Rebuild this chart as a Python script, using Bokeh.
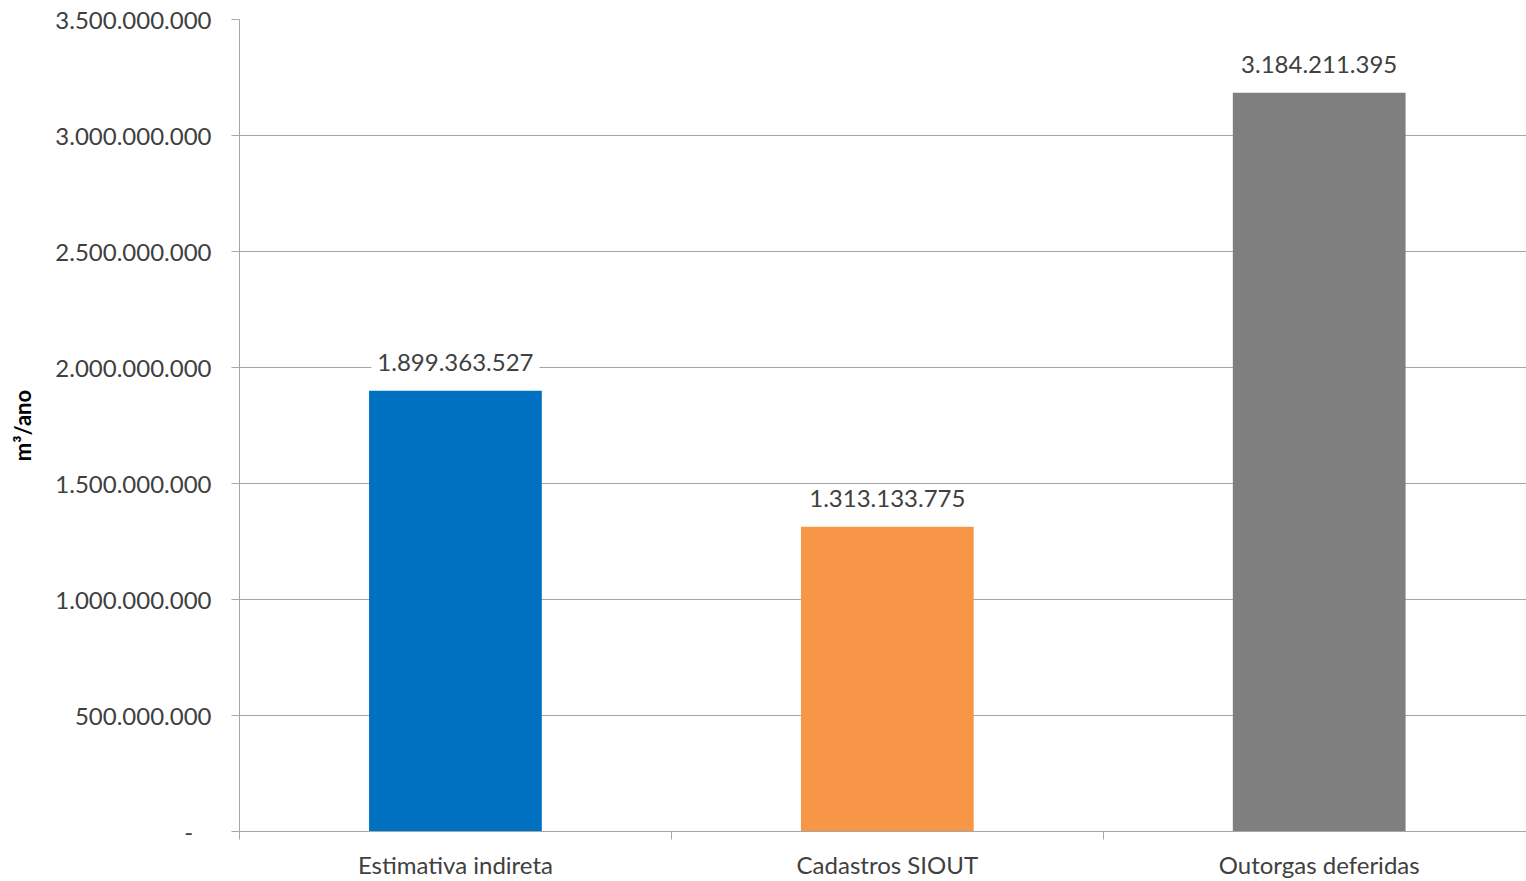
from bokeh.plotting import figure
from bokeh.models import ColumnDataSource, Range1d, FixedTicker, CustomJSTickFormatter
from bokeh.core.properties import value
from bokeh.embed import file_html
from bokeh.resources import INLINE

categories = ["Estimativa indireta", "Cadastros SIOUT", "Outorgas deferidas"]
values = [1899363527, 1313133775, 3184211395]
colors = ["#0070C0", "#F79646", "#7F7F7F"]
y_ticks = [0, 500000000, 1000000000, 1500000000, 2000000000, 2500000000, 3000000000, 3500000000]


def fmt(v):
    return f"{v:,}".replace(",", ".")


x_pos = [i + 0.5 for i in range(len(categories))]
src = ColumnDataSource(dict(x=x_pos, top=values, color=colors,
                            label=[fmt(v) for v in values], cat=categories))

FONT = "Lato"
TXT = "#404040"
FS = "24px"

p = figure(width=1526, height=881, output_backend="svg", toolbar_location=None,
           x_range=Range1d(0, 2.98), y_range=Range1d(0, 3500000000),
           min_border_left=239, min_border_right=0, min_border_top=19, min_border_bottom=50)
p.outline_line_color = None
p.background_fill_color = "white"
p.border_fill_color = "white"

p.vbar(x="x", top="top", bottom=0, width=0.4, color="color", line_color=None, source=src)

# labels with white boxes
p.text(x="x", y="top", text="label", source=src, text_align="center",
       text_baseline="middle", y_offset=-28, text_font=value(FONT),
       text_font_size=FS, text_color=TXT,
       background_fill_color="white", padding=6)

# Y axis
p.yaxis.ticker = FixedTicker(ticks=y_ticks)
p.yaxis.formatter = CustomJSTickFormatter(code="""
if (tick == 0) return '-\u00a0\u00a0\u00a0';
return Math.round(tick).toString().replace(/\\B(?=(\\d{3})+(?!\\d))/g, '.');
""")
p.yaxis.axis_label = "m³/ano"
p.yaxis.axis_label_text_font = FONT
p.yaxis.axis_label_text_font_style = "bold"
p.yaxis.axis_label_text_font_size = "22px"
p.yaxis.axis_label_text_color = "black"
p.yaxis.axis_label_standoff = 16
p.yaxis.major_label_text_font = FONT
p.yaxis.major_label_text_font_size = FS
p.yaxis.major_label_text_color = TXT
p.yaxis.major_label_standoff = 20
p.yaxis.major_tick_out = 8
p.yaxis.major_tick_in = 0
p.yaxis.minor_tick_line_color = None
p.yaxis.axis_line_color = "#A6A6A6"
p.yaxis.major_tick_line_color = "#A6A6A6"

# X axis
p.xaxis.ticker = FixedTicker(ticks=x_pos, minor_ticks=list(range(len(categories))))
p.xaxis.major_label_overrides = {x: c for x, c in zip(x_pos, categories)}
p.xaxis.major_label_text_font = FONT
p.xaxis.major_label_text_font_size = FS
p.xaxis.major_label_text_color = TXT
p.xaxis.major_label_standoff = 10
p.xaxis.major_tick_line_color = None
p.xaxis.major_tick_out = 0
p.xaxis.major_tick_in = 0
p.xaxis.minor_tick_out = 8
p.xaxis.minor_tick_in = 0
p.xaxis.minor_tick_line_color = "#A6A6A6"
p.xaxis.axis_line_color = "#A6A6A6"

p.xgrid.grid_line_color = None
p.ygrid.grid_line_color = "#A6A6A6"
p.ygrid.ticker = FixedTicker(ticks=y_ticks)

open("out.html", "w").write(file_html(p, INLINE))
